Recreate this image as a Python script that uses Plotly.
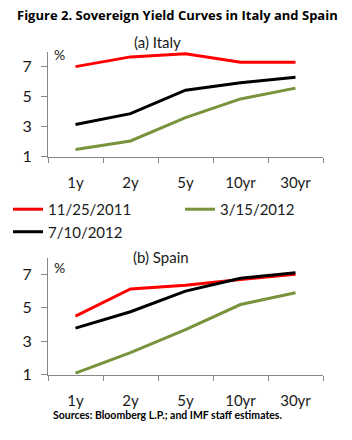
import plotly.graph_objects as go

maturities = ["1y", "2y", "5y", "10yr", "30yr"]
series_names = ["11/25/2011", "3/15/2012", "7/10/2012"]
series_colors = ["#FF0000", "#77933C", "#000000"]

italy_nov2011 = [7.0, 7.65, 7.85, 7.3, 7.3]
italy_mar2012 = [1.48, 2.05, 3.6, 4.85, 5.57]
italy_jul2012 = [3.15, 3.87, 5.43, 5.93, 6.3]

spain_nov2011 = [4.51, 6.13, 6.35, 6.7, 7.0]
spain_mar2012 = [1.1, 2.33, 3.7, 5.2, 5.9]
spain_jul2012 = [3.79, 4.77, 6.0, 6.77, 7.1]

y_ticks = [1, 3, 5, 7]

W, H = 352, 440
def py(p):
    return 1 - p / H

fig = go.Figure()
italy = [italy_nov2011, italy_mar2012, italy_jul2012]
spain = [spain_nov2011, spain_mar2012, spain_jul2012]
for name, col, vals in zip(series_names, series_colors, italy):
    fig.add_trace(go.Scatter(x=maturities, y=vals, mode="lines", name=name,
                             line=dict(color=col, width=3), xaxis="x", yaxis="y"))
for name, col, vals in zip(series_names, series_colors, spain):
    fig.add_trace(go.Scatter(x=maturities, y=vals, mode="lines", name=name,
                             line=dict(color=col, width=3), xaxis="x2", yaxis="y2",
                             showlegend=False))

font_family = "Lato, Open Sans, sans-serif"
axis_color = "#888888"
xdom = [48 / W, 323 / W]
xcommon = dict(type="category", domain=xdom, showline=True, linecolor=axis_color,
               linewidth=1, ticks="outside", tickson="boundaries", ticklen=5,
               tickcolor=axis_color, showgrid=False, zeroline=False,
               ticklabelstandoff=12,
               tickfont=dict(size=15, color="#1a1a1a", family=font_family),
               range=[-0.5, 4.5])
ycommon = dict(range=[1, 8], tickvals=y_ticks, showline=True, linecolor=axis_color,
               linewidth=1, ticks="outside", ticklen=6, tickcolor=axis_color,
               showgrid=False, zeroline=False, ticklabelstandoff=6,
               tickfont=dict(size=16, color="#1a1a1a", family=font_family))

fig.update_layout(
    width=W, height=H,
    margin=dict(l=0, r=0, t=0, b=0),
    paper_bgcolor="white", plot_bgcolor="white",
    font=dict(family=font_family, color="#1a1a1a"),
    showlegend=True,
    xaxis=dict(**xcommon, anchor="y"),
    yaxis=dict(**ycommon, domain=[py(160), py(52.7)], anchor="x"),
    xaxis2=dict(**xcommon, anchor="y2"),
    yaxis2=dict(**ycommon, domain=[py(382.7), py(263)], anchor="x2"),
    legend=dict(orientation="h", x=0.053, y=py(197), xanchor="left", yanchor="top",
                entrywidth=127, entrywidthmode="pixels", itemwidth=30,
                font=dict(size=15, family=font_family, color="#1a1a1a"),
                bgcolor="rgba(0,0,0,0)", tracegroupgap=0),
    annotations=[
        dict(text="<b>Figure 2. Sovereign Yield Curves in Italy and Spain</b>",
             x=177 / W, y=py(15), xref="paper", yref="paper", showarrow=False,
             xanchor="center", yanchor="middle",
             font=dict(size=13, family="Open Sans, sans-serif", color="#000000")),
        dict(text="(a) Italy", x=157 / W, y=py(43), xref="paper", yref="paper",
             showarrow=False, xanchor="center", yanchor="middle",
             font=dict(size=15, family=font_family)),
        dict(text="%", x=60 / W, y=py(56), xref="paper", yref="paper",
             showarrow=False, xanchor="center", yanchor="middle",
             font=dict(size=14, family=font_family)),
        dict(text="(b) Spain", x=161 / W, y=py(262), xref="paper", yref="paper",
             showarrow=False, xanchor="center", yanchor="middle",
             font=dict(size=15, family=font_family)),
        dict(text="%", x=60 / W, y=py(273), xref="paper", yref="paper",
             showarrow=False, xanchor="center", yanchor="middle",
             font=dict(size=14, family=font_family)),
        dict(text="<b>Sources: Bloomberg L.P.; and IMF staff estimates.</b>",
             x=167 / W, y=py(424), xref="paper", yref="paper", showarrow=False,
             xanchor="center", yanchor="middle",
             font=dict(size=10.5, family=font_family, color="#000000")),
    ],
)

fig.write_html("out.html")
